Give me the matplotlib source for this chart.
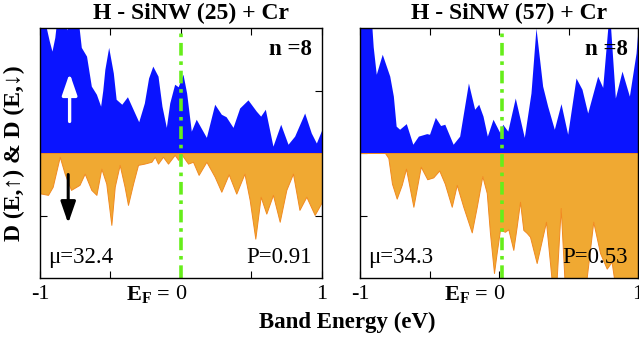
# -*- coding: utf-8 -*-
"""
Spin-resolved density of states of H-SiNW(25)+Cr and H-SiNW(57)+Cr (n=8)
"""

import matplotlib
matplotlib.use('Agg')
import matplotlib.pyplot as plt


#################### Data

### H-SiNW (25) + Cr, spin up
x_up_25 = [-1.0, -0.985, -0.955, -0.935, -0.915, -0.895, -0.885, -0.85, -0.81, -0.77,
           -0.725, -0.707, -0.67, -0.636, -0.60, -0.57, -0.555, -0.54, -0.513, -0.48,
           -0.46, -0.42, -0.38, -0.34, -0.30, -0.26, -0.23, -0.20, -0.163, -0.135,
           -0.104, -0.08, -0.045, -0.02, 0.014, 0.04, 0.073, 0.108, 0.18, 0.239,
           0.286, 0.32, 0.369, 0.416, 0.475, 0.534, 0.565, 0.598, 0.652, 0.707,
           0.759, 0.806, 0.877, 0.924, 0.96, 1.0]
dos_up_25 = [2.1, 2.1, 2.0, 1.8, 1.63, 1.85, 2.05, 2.3, 1.97, 2.3,
             2.05, 1.69, 1.55, 1.07, 0.94, 0.75, 1.0, 1.34, 1.69, 1.28,
             0.86, 0.78, 0.9, 0.7, 0.5, 0.8, 1.2, 1.39, 1.23, 0.75,
             0.41, 0.8, 1.1, 1.06, 1.26, 0.96, 0.35, 0.54, 0.25, 0.78,
             0.62, 0.58, 0.41, 0.72, 0.85, 0.67, 0.59, 0.70, 0.11, 0.46,
             0.14, 0.27, 0.64, 0.32, 0.16, 0.38]

### H-SiNW (25) + Cr, spin down
x_dn_25 = [-1.0, -0.943, -0.91, -0.86, -0.825, -0.78, -0.72, -0.683, -0.636, -0.60,
           -0.565, -0.53, -0.494, -0.47, -0.435, -0.40, -0.376, -0.34, -0.305, -0.26,
           -0.21, -0.186, -0.163, -0.128, -0.092, -0.045, -0.02, 0.0, 0.05, 0.085,
           0.125, 0.18, 0.239, 0.286, 0.338, 0.392, 0.45, 0.487, 0.527, 0.565,
           0.605, 0.652, 0.70, 0.747, 0.794, 0.84, 0.889, 0.948, 1.0]
dos_dn_25 = [-0.645, -0.67, -0.54, -0.06, -0.33, -0.59, -0.51, -0.33, -0.59, -0.67,
             -0.25, -0.49, -1.15, -0.54, -0.19, -0.54, -0.83, -0.49, -0.19, -0.17,
             -0.14, -0.06, -0.17, -0.06, -0.17, -0.03, -0.11, -0.01, -0.17, -0.14,
             -0.35, -0.14, -0.38, -0.62, -0.34, -0.65, -0.33, -0.75, -1.37, -0.70,
             -0.97, -0.67, -1.10, -0.59, -0.33, -0.91, -0.70, -0.99, -0.78]

### H-SiNW (57) + Cr, spin up
x_up_57 = [-1.0, -0.92, -0.905, -0.883, -0.84, -0.786, -0.76, -0.74, -0.715, -0.667,
           -0.62, -0.58, -0.52, -0.50, -0.458, -0.42, -0.39, -0.33, -0.283, -0.22,
           -0.175, -0.146, -0.115, -0.084, -0.043, 0.005, 0.027, 0.063, 0.117, 0.182,
           0.23, 0.266, 0.314, 0.35, 0.398, 0.446, 0.494, 0.554, 0.597, 0.638,
           0.71, 0.746, 0.794, 0.837, 0.885, 0.938, 0.986, 1.0]
dos_up_57 = [2.3, 2.2, 1.7, 1.26, 1.58, 1.23, 0.91, 0.43, 0.38, 0.47,
             0.14, 0.27, 0.31, 0.30, 0.57, 0.44, 0.46, 0.14, 0.27, 1.12,
             0.70, 0.78, 0.59, 0.27, 0.54, 0.33, 0.46, 0.35, 0.88, 0.25,
             0.96, 2.0, 1.07, 0.75, 0.38, 0.79, 0.30, 1.20, 1.02, 0.64,
             1.23, 1.05, 2.3, 0.88, 1.31, 0.91, 1.6, 2.0]

### H-SiNW (57) + Cr, spin down
x_dn_57 = [-1.0, -0.82, -0.796, -0.77, -0.736, -0.70, -0.669, -0.616, -0.563, -0.516,
           -0.473, -0.43, -0.39, -0.34, -0.304, -0.257, -0.196, -0.16, -0.12, -0.088,
           -0.065, -0.036, -0.017, 0.007, 0.043, 0.067, 0.103, 0.127, 0.151, 0.175,
           0.2, 0.223, 0.271, 0.338, 0.386, 0.41, 0.444, 0.475, 0.62, 0.678,
           0.727, 0.775, 0.81, 0.84, 1.0]
dos_dn_57 = [0.0, 0.0, -0.08, -0.49, -0.73, -0.51, -0.25, -0.86, -0.22, -0.42,
             -0.39, -0.28, -0.49, -0.86, -0.51, -0.86, -1.27, -0.86, -0.37, -0.64,
             -1.28, -1.92, -1.6, -1.23, -1.26, -1.22, -1.55, -1.18, -0.78, -1.23,
             -1.28, -1.34, -1.76, -1.10, -2.2, -2.2, -0.88, -2.2, -2.2, -1.10,
             -1.6, -1.85, -1.74, -2.2, -2.2]

### Labels
titles = ['H - SiNW (25) + Cr', 'H - SiNW (57) + Cr']
mu_labels = ['\u03bc=32.4', '\u03bc=34.3']
p_labels = ['P=0.91', 'P=0.53']
n_label = 'n =8'
e_fermi = [0.0, 0.02]


#################### Plot parameters

plt.rcParams['font.family'] = ['Liberation Serif', 'DejaVu Serif']
plt.rcParams['mathtext.fontset'] = 'custom'
plt.rcParams['mathtext.rm'] = 'Liberation Serif'
plt.rcParams['mathtext.bf'] = 'Liberation Serif:bold'

size_title = 17
size_text = 16.5
size_label = 17
size_tick = 16

color_up = '#0a14ff'
color_dn = '#f0a932'
color_dn_edge = '#f08a20'
color_ef = '#66ee1a'

fig_w, fig_h = 639, 342   # px
dpi = 100


#################### Make plot

fig = plt.figure(figsize=(fig_w / dpi, fig_h / dpi), dpi=dpi)
ax1 = fig.add_axes((40 / fig_w, 64 / fig_h, 282 / fig_w, 250 / fig_h))
ax2 = fig.add_axes((360 / fig_w, 64 / fig_h, 278 / fig_w, 250 / fig_h))

panels = [(ax1, x_up_25, dos_up_25, x_dn_25, dos_dn_25),
          (ax2, x_up_57, dos_up_57, x_dn_57, dos_dn_57)]

for i, (ax, xu, yu, xd, yd) in enumerate(panels):

    ax.fill_between(xu, 0, yu, color=color_up, linewidth=0, zorder=2)
    ax.fill_between(xd, 0, yd, facecolor=color_dn, edgecolor=color_dn_edge,
                    linewidth=0.7, zorder=2)

    ax.axvline(e_fermi[i], color=color_ef, linewidth=2.6,
               linestyle=(0, (3.5, 1.6, 1.0, 1.6)), zorder=4)

    ax.set_xlim(-1, 1)
    ax.set_ylim(-2, 2)
    ax.set_xticks([-1, -0.5, 0, 0.5, 1])
    ax.set_xticklabels(['-1', '', '0', '', '1'], fontsize=size_tick)
    ax.set_yticks([-1, 0, 1])
    ax.set_yticklabels([])
    ax.tick_params(direction='in', top=True, right=True, length=5, width=0.8, pad=5)
    for sp in ax.spines.values():
        sp.set_linewidth(1.0)
        sp.set_zorder(5)

    # "E_F =" in front of the zero tick label
    ax.text(-0.075, -0.088, r'$\mathbf{E_F}$ =', transform=ax.get_xaxis_transform(),
            ha='right', va='baseline', fontsize=size_tick, fontweight='bold')

    ax.text(0.535, 1.015, titles[i], transform=ax.transAxes, ha='center', va='bottom',
            fontsize=size_title, fontweight='bold')

    # white box first, text above the bars
    ax.text(0.965, 0.955, n_label, transform=ax.transAxes, ha='right', va='top',
            fontsize=size_text, fontweight='bold', color='white',
            bbox=dict(facecolor='white', edgecolor='none', pad=0.5), zorder=1)
    ax.text(0.965, 0.955, n_label, transform=ax.transAxes, ha='right', va='top',
            fontsize=size_text, fontweight='bold', zorder=6)
    ax.text(0.03, 0.04, mu_labels[i], transform=ax.transAxes, ha='left', va='bottom',
            fontsize=size_text, zorder=6)
    ax.text(0.965, 0.04, p_labels[i], transform=ax.transAxes, ha='right', va='bottom',
            fontsize=size_text, zorder=6)

### Spin arrows
ax1.annotate('', xy=(-0.79, 1.32), xytext=(-0.79, 0.46),
             arrowprops=dict(arrowstyle='-|>,head_width=0.45,head_length=1.3',
                             color='white', lw=2.4), zorder=6)
ax1.annotate('', xy=(-0.8, -1.17), xytext=(-0.8, -0.3),
             arrowprops=dict(arrowstyle='-|>,head_width=0.45,head_length=1.3',
                             color='black', lw=2.2), zorder=6)

ax1.set_ylabel('D (E,\u2191) & D (E,\u2193)', fontsize=size_label, fontweight='bold',
               labelpad=6)
fig.text(347 / fig_w, 1 - 322 / fig_h, 'Band Energy (eV)', ha='center', va='center',
         fontsize=size_text, fontweight='bold')


#################### Save plot

fig.savefig('out.png', dpi=dpi)
